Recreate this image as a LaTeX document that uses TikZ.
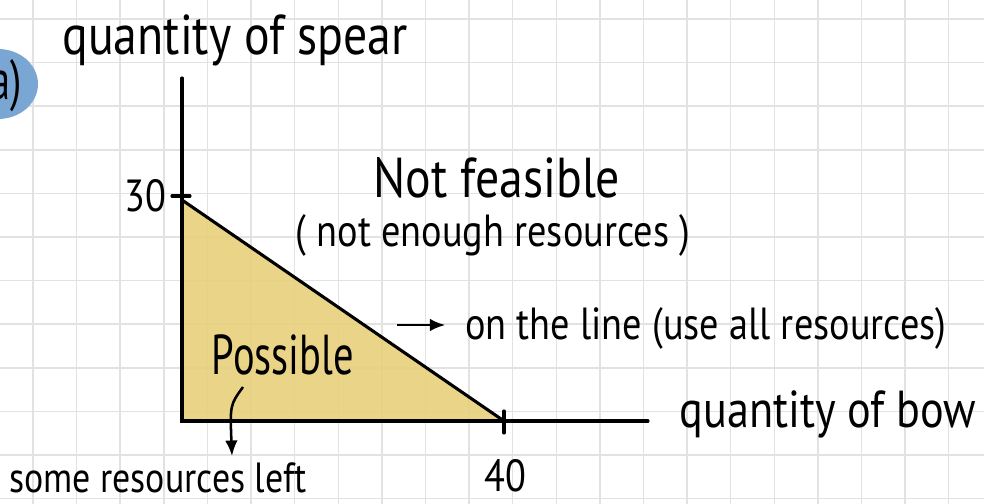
\documentclass[tikz,border=0pt]{standalone}
\usepackage{fontspec}
\newfontfamily\handfont[FakeStretch=0.72]{PT Sans}
\newfontfamily\handwide[FakeStretch=0.85]{PT Sans}
\usetikzlibrary{positioning, arrows.meta}
\definecolor{gridgray}{RGB}{226,226,226}
\definecolor{sandfill}{RGB}{232,208,124}
\definecolor{tagblue}{RGB}{122,166,212}

\begin{document}
\begin{tikzpicture}[x=0.025cm, y=-0.025cm,
        hand/.style={font=\handwide\fontsize{#1}{#1}\selectfont, inner sep=0pt},
        narrowhand/.style={font=\handfont\fontsize{#1}{#1}\selectfont, inner sep=0pt},
        axis/.style={line width=2.2pt, line cap=round},
        arrow/.style={-{Latex[length=11pt, width=9pt]}, line width=1.8pt}
    ]
    % paper background with grid
    \useasboundingbox (0,0) rectangle (984,504);
    \fill[white] (0,0) rectangle (984,504);
    \foreach \i in {0,...,21}
        \draw[gridgray, line width=1pt] ({33+43.6*\i},0) -- ({33+43.6*\i},504);
    \foreach \j in {0,...,11}
        \draw[gridgray, line width=1pt] (0,{19+43.6*\j}) -- (984,{19+43.6*\j});

    % part tag
    \fill[tagblue] (-2,84) ellipse (40 and 35);
    \node[narrowhand=40] (tag) at (6,86) {a)};

    % axes and budget line
    \coordinate (O) at (182,421);
    \coordinate (ytop) at (182,78);
    \coordinate (xend) at (648,421);
    \coordinate (A) at (182,200);
    \coordinate (B) at (504,421);
    \fill[sandfill, fill opacity=0.9] (O) -- (A) -- (B) -- cycle;
    \draw[axis] (ytop) -- (O) -- (xend);
    \draw[axis] (A) -- (B);
    \draw[axis] (A) ++(-10,-4) -- ++(18,0);
    \draw[axis] (B) ++(0,-10) -- ++(0,22);

    % axis labels
    \node[hand=40] (ylabel) at (235,40) {quantity of spear};
    \node[hand=37] (xlabel) at (828,414) {quantity of bow};
    \node[hand=32] (ytick) at (145,196) {30};
    \node[hand=32] (xtick) at (505,476) {40};

    % regions
    \node[hand=40] (notfeas) at (497,178) {Not feasible};
    \node[hand=32] (notenough) at (493,235) {( not enough resources )};
    \node[hand=32, anchor=west] (online) at (465,328) {on the line (use all resources)};
    \node[narrowhand=40] (possible) at (283,355) {Possible};
    \node[hand=30] (someleft) at (158,478) {some resources left};

    % pointers
    \coordinate (lineTail) at (397,325);
    \draw[arrow, shorten >=14pt] (lineTail) -- (online.west |- lineTail);
    \coordinate (possTail) at (243,387);
    \coordinate (leftHead) at (232,456);
    \draw[arrow] (possTail) .. controls (230,405) .. (leftHead);
\end{tikzpicture}
\end{document}
